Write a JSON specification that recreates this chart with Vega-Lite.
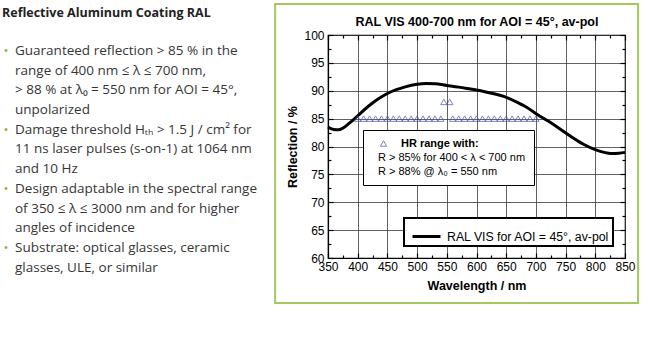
{
  "$schema": "https://vega.github.io/schema/vega-lite/v6.json",
  "autosize": {"type": "pad"},
  "padding": {"left": 0, "top": 2, "right": 0, "bottom": 0},
  "background": "white",
  "spacing": 11,
  "resolve": {"legend": {"color": "independent", "shape": "independent"}},
  "datasets": {
    "notes": [
      {"line": 2, "role": "bullet", "text": "•"},
      {"line": 6, "role": "bullet", "text": "•"},
      {"line": 9, "role": "bullet", "text": "•"},
      {"line": 12, "role": "bullet", "text": "•"},
      {"line": 2, "role": "body", "text": "Guaranteed reflection > 85 % in the"},
      {"line": 3, "role": "body", "text": "range of 400 nm ≤ λ ≤ 700 nm,"},
      {"line": 4, "role": "body", "text": "> 88 % at λ₀ = 550 nm for AOI = 45°,"},
      {"line": 5, "role": "body", "text": "unpolarized"},
      {"line": 6, "role": "body", "text": "Damage threshold Hₜₕ > 1.5 J / cm² for"},
      {"line": 7, "role": "body", "text": "11 ns laser pulses (s-on-1) at 1064 nm"},
      {"line": 8, "role": "body", "text": "and 10 Hz"},
      {"line": 9, "role": "body", "text": "Design adaptable in the spectral range"},
      {"line": 10, "role": "body", "text": "of 350 ≤ λ ≤ 3000 nm and for higher"},
      {"line": 11, "role": "body", "text": "angles of incidence"},
      {"line": 12, "role": "body", "text": "Substrate: optical glasses, ceramic"},
      {"line": 13, "role": "body", "text": "glasses, ULE, or similar"}
    ],
    "curve": [
      {"wl": 350, "r": 83.5}, {"wl": 355, "r": 83.2}, {"wl": 360, "r": 83.05}, {"wl": 367, "r": 83.0},
      {"wl": 375, "r": 83.3}, {"wl": 385, "r": 84.1}, {"wl": 395, "r": 85.0}, {"wl": 405, "r": 86.0},
      {"wl": 415, "r": 86.95}, {"wl": 425, "r": 87.8}, {"wl": 435, "r": 88.55}, {"wl": 450, "r": 89.5},
      {"wl": 465, "r": 90.2}, {"wl": 480, "r": 90.7}, {"wl": 500, "r": 91.15}, {"wl": 515, "r": 91.3},
      {"wl": 530, "r": 91.25}, {"wl": 550, "r": 90.95}, {"wl": 570, "r": 90.65}, {"wl": 590, "r": 90.3},
      {"wl": 607, "r": 90.0}, {"wl": 627, "r": 89.5}, {"wl": 647, "r": 88.95}, {"wl": 665, "r": 88.1},
      {"wl": 685, "r": 87.0}, {"wl": 703, "r": 85.7}, {"wl": 720, "r": 84.6}, {"wl": 740, "r": 83.2},
      {"wl": 759, "r": 81.8}, {"wl": 780, "r": 80.4}, {"wl": 801, "r": 79.4}, {"wl": 815, "r": 78.95},
      {"wl": 826, "r": 78.75}, {"wl": 840, "r": 78.8}, {"wl": 850, "r": 78.95}
    ],
    "targets": [
      {"wl": 400, "r": 85}, {"wl": 410, "r": 85}, {"wl": 420, "r": 85}, {"wl": 430, "r": 85},
      {"wl": 440, "r": 85}, {"wl": 450, "r": 85}, {"wl": 460, "r": 85}, {"wl": 470, "r": 85},
      {"wl": 480, "r": 85}, {"wl": 490, "r": 85}, {"wl": 500, "r": 85}, {"wl": 510, "r": 85},
      {"wl": 520, "r": 85}, {"wl": 530, "r": 85}, {"wl": 540, "r": 85},
      {"wl": 545, "r": 88}, {"wl": 555, "r": 88},
      {"wl": 560, "r": 85}, {"wl": 570, "r": 85}, {"wl": 580, "r": 85}, {"wl": 590, "r": 85},
      {"wl": 600, "r": 85}, {"wl": 610, "r": 85}, {"wl": 620, "r": 85}, {"wl": 630, "r": 85},
      {"wl": 640, "r": 85}, {"wl": 650, "r": 85}, {"wl": 660, "r": 85}, {"wl": 670, "r": 85},
      {"wl": 680, "r": 85}, {"wl": 690, "r": 85}, {"wl": 700, "r": 85}
    ]
  },
  "hconcat": [
    {
      "width": 262,
      "height": 240,
      "view": {"stroke": null},
      "title": {"text": "Reflective Aluminum Coating RAL", "anchor": "start", "frame": "group", "font": "Open Sans",
                "fontSize": 12.5, "fontWeight": "bold", "color": "#222222", "offset": 16, "dx": 2},
      "data": {"name": "notes"},
      "encoding": {
        "x": {"field": "role", "type": "nominal", "axis": null,
              "scale": {"type": "point", "domain": ["bullet", "body"], "range": [6, 15], "padding": 0}},
        "y": {"field": "line", "type": "quantitative", "axis": null,
              "scale": {"domain": [1.187, 13.376], "reverse": true, "nice": false, "zero": false}},
        "text": {"field": "text"}
      },
      "layer": [
        {"transform": [{"filter": "datum.role === 'bullet'"}],
         "mark": {"type": "text", "align": "center", "baseline": "middle", "font": "Open Sans", "fontSize": 13, "color": "#8db33a"}},
        {"transform": [{"filter": "datum.role === 'body'"}],
         "mark": {"type": "text", "align": "left", "baseline": "middle", "font": "Open Sans", "fontSize": 13.5, "color": "#363636"}}
      ]
    },
    {
      "width": 297,
      "height": 223,
      "view": {"stroke": "#000000", "strokeWidth": 1.2},
      "resolve": {"axis": {"x": "independent", "y": "independent"}},
      "layer": [
        {
          "data": {"values": [{}]},
          "mark": {"type": "rect", "fill": "transparent", "stroke": "#a6c75d", "strokeWidth": 2},
          "encoding": {
            "x": {"datum": 261, "type": "quantitative", "axis": null, "scale": {"domain": [350, 850], "nice": false, "zero": false}},
            "x2": {"datum": 872},
            "y": {"datum": 105.56, "type": "quantitative", "axis": null, "scale": {"domain": [60, 100], "nice": false, "zero": false}},
            "y2": {"datum": 51.93}
          }
        },
        {
          "data": {"name": "targets"},
          "mark": {"type": "point", "opacity": 0},
          "encoding": {
            "x": {"field": "wl", "type": "quantitative", "scale": {"domain": [350, 850], "nice": false, "zero": false},
                  "axis": {"orient": "bottom", "values": [375, 425, 475, 525, 575, 625, 675, 725, 775, 825], "tickSize": -3, "labels": false, "grid": false, "domain": false, "title": null}},
            "y": {"field": "r", "type": "quantitative", "scale": {"domain": [60, 100], "nice": false, "zero": false},
                  "axis": {"orient": "left", "values": [62.5, 67.5, 72.5, 77.5, 82.5, 87.5, 92.5, 97.5], "tickSize": -3, "labels": false, "grid": false, "domain": false, "title": null}}
          }
        },
        {
          "data": {"name": "targets"},
          "mark": {"type": "point", "opacity": 0},
          "encoding": {
            "x": {"field": "wl", "type": "quantitative", "scale": {"domain": [350, 850], "nice": false, "zero": false},
                  "axis": {"orient": "top", "values": [375, 425, 475, 525, 575, 625, 675, 725, 775, 825], "tickSize": -3, "labels": false, "grid": false, "domain": false, "title": null}},
            "y": {"field": "r", "type": "quantitative", "scale": {"domain": [60, 100], "nice": false, "zero": false},
                  "axis": {"orient": "right", "values": [62.5, 67.5, 72.5, 77.5, 82.5, 87.5, 92.5, 97.5], "tickSize": -3, "labels": false, "grid": false, "domain": false, "title": null}}
          }
        },
        {
          "data": {"name": "targets"},
          "mark": {"type": "point", "opacity": 0},
          "encoding": {
            "x": {"field": "wl", "type": "quantitative", "scale": {"domain": [350, 850], "nice": false, "zero": false},
                  "axis": {"orient": "top", "values": [350, 400, 450, 500, 550, 600, 650, 700, 750, 800, 850], "tickSize": -5, "labels": false, "grid": false, "domain": false,
                           "title": "RAL VIS 400-700 nm for AOI = 45°, av-pol", "titlePadding": 6, "titleFontSize": 12.5}},
            "y": {"field": "r", "type": "quantitative", "scale": {"domain": [60, 100], "nice": false, "zero": false},
                  "axis": {"orient": "right", "values": [60, 65, 70, 75, 80, 85, 90, 95, 100], "tickSize": -5, "labels": false, "grid": false, "domain": false, "title": null}}
          }
        },
        {
          "data": {"name": "curve"},
          "mark": {"type": "line", "interpolate": "monotone", "strokeWidth": 3},
          "encoding": {
            "x": {"field": "wl", "type": "quantitative", "scale": {"domain": [350, 850], "nice": false, "zero": false},
                  "axis": {"orient": "bottom", "values": [350, 400, 450, 500, 550, 600, 650, 700, 750, 800, 850], "title": "Wavelength / nm",
                           "grid": true, "tickSize": -5, "labelPadding": 8, "titlePadding": 7, "labelFlush": false, "labelOverlap": false}},
            "y": {"field": "r", "type": "quantitative", "scale": {"domain": [60, 100], "nice": false, "zero": false},
                  "axis": {"orient": "left", "values": [60, 65, 70, 75, 80, 85, 90, 95, 100], "title": "Reflection / %",
                           "grid": true, "tickSize": -5, "labelPadding": 9, "titlePadding": 4, "labelFlush": false, "labelOverlap": false}},
            "color": {"datum": "RAL VIS for AOI = 45°, av-pol", "type": "nominal", "scale": {"range": ["#000000"]},
                      "legend": {"orient": "none", "legendX": 76, "legendY": 183, "title": null, "symbolType": "stroke",
                                 "symbolStrokeWidth": 3, "symbolSize": 784, "labelFont": "Liberation Sans", "labelFontSize": 12.3,
                                 "labelColor": "#000000", "labelOffset": 5, "labelLimit": 0, "padding": 3, "symbolOffset": 4,
                                 "strokeColor": "#000000", "fillColor": "#ffffff",
                                 "encoding": {"legend": {"strokeWidth": {"value": 2}}}}}
          }
        },
        {
          "data": {"name": "targets"},
          "mark": {"type": "point", "filled": false, "color": "#4b50b0", "size": 40, "strokeWidth": 1},
          "encoding": {
            "x": {"field": "wl", "type": "quantitative", "axis": null, "scale": {"domain": [350, 850], "nice": false, "zero": false}},
            "y": {"field": "r", "type": "quantitative", "axis": null, "scale": {"domain": [60, 100], "nice": false, "zero": false}},
            "shape": {"datum": "HR range with:", "type": "nominal", "scale": {"range": ["triangle-up"]},
                      "legend": {"orient": "none", "legendX": 35, "legendY": 95,
                                 "title": ["R > 85% for 400 < λ < 700 nm", "R > 88% @ λ₀ = 550 nm"],
                                 "titleOrient": "bottom", "titleAnchor": "start", "titleFont": "Liberation Sans", "titleFontSize": 11,
                                 "titleFontWeight": "normal", "titleColor": "#000000", "titleLineHeight": 14, "titlePadding": 3, "titleLimit": 0,
                                 "labelFont": "Liberation Sans", "labelFontSize": 11, "labelFontWeight": "bold", "labelColor": "#000000",
                                 "labelOffset": 12, "symbolSize": 40, "symbolStrokeWidth": 1, "symbolStrokeColor": "#4b50b0",
                                 "symbolFillColor": "transparent", "symbolOffset": 7, "padding": 8,
                                 "strokeColor": "#000000", "fillColor": "#ffffff",
                                 "encoding": {"title": {"dx": {"value": 7}}}}}
          }
        }
      ]
    }
  ],
  "config": {
    "font": "Liberation Sans",
    "axis": {
      "labelFont": "Liberation Sans", "labelFontSize": 12, "labelColor": "#000000",
      "titleFont": "Liberation Sans", "titleFontSize": 12.5, "titleFontWeight": "bold", "titleColor": "#000000",
      "gridColor": "#3a3a3a", "gridWidth": 0.8, "gridOpacity": 1,
      "tickColor": "#000000", "tickWidth": 1.2, "domainColor": "#000000", "domainWidth": 1.2
    }
  }
}
